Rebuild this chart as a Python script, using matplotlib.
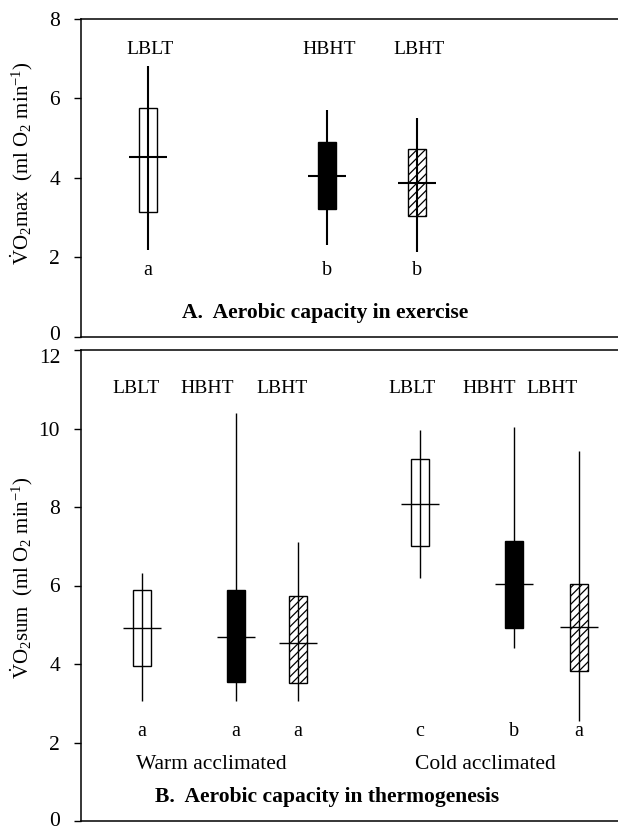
import matplotlib
matplotlib.use('Agg')
import matplotlib.pyplot as plt
from matplotlib.transforms import ScaledTranslation

plt.rcParams['font.family'] = ['Liberation Serif', 'DejaVu Serif']
plt.rcParams['mathtext.fontset'] = 'custom'
plt.rcParams['mathtext.rm'] = 'Liberation Serif'
plt.rcParams['mathtext.it'] = 'Liberation Serif:italic'
plt.rcParams['hatch.linewidth'] = 0.9

# Panel A: VO2max (ml O2 min-1)
groups_a = ['LBLT', 'HBHT', 'LBHT']
letters_a = ['a', 'b', 'b']
lo_a = [2.19, 2.32, 2.13]
q1_a = [3.14, 3.22, 3.05]
med_a = [4.52, 4.04, 3.87]
q3_a = [5.76, 4.89, 4.71]
hi_a = [6.81, 5.70, 5.51]

# Panel B: VO2sum (ml O2 min-1), warm then cold acclimated
groups_b = ['LBLT', 'HBHT', 'LBHT', 'LBLT', 'HBHT', 'LBHT']
letters_b = ['a', 'a', 'a', 'c', 'b', 'a']
lo_b = [3.05, 3.05, 3.05, 6.20, 4.42, 2.56]
q1_b = [3.95, 3.54, 3.52, 7.00, 4.92, 3.82]
med_b = [4.91, 4.70, 4.53, 8.08, 6.03, 4.94]
q3_b = [5.88, 5.88, 5.73, 9.22, 7.14, 6.03]
hi_b = [6.32, 10.39, 7.12, 9.95, 10.05, 9.43]

styles = {'LBLT': dict(facecolor='white', hatch=None),
          'HBHT': dict(facecolor='black', hatch=None),
          'LBHT': dict(facecolor='white', hatch='////')}

fig = plt.figure(figsize=(6.18, 8.31), dpi=100)
W, H = 618, 831
x0, x1 = 81, 626


def make_axes(top, bottom):
    ax = fig.add_axes([x0 / W, 1 - bottom / H, (x1 - x0) / W, (bottom - top) / H])
    ax.set_xlim(x0, x1)
    ax.set_xticks([])
    for s in ax.spines.values():
        s.set_linewidth(1.1)
    ax.tick_params(axis='y', direction='out', length=5, width=1, labelsize=15.5, pad=10)
    return ax


def nudge(label, dy_px):
    label.set_transform(label.get_transform() + ScaledTranslation(0, dy_px / 100, fig.dpi_scale_trans))


def draw_boxes(ax, pos, groups, lo, q1, med, q3, hi, lw):
    for x, g, a, b, m, c, d in zip(pos, groups, lo, q1, med, q3, hi):
        st = styles[g]
        ax.bar(x, c - b, bottom=b, width=18, color=st['facecolor'],
               edgecolor='black', linewidth=1.0, hatch=st['hatch'], zorder=2)
        ax.vlines(x, a, d, color='black', linewidth=lw, zorder=3)
        ax.hlines(m, x - 19, x + 19, color='black', linewidth=lw, zorder=3)


# ---- Panel A ----
axA = make_axes(18.5, 337)
axA.set_ylim(0, 8)
axA.set_yticks([0, 2, 4, 6, 8])
pos_a = [148, 327, 417]
draw_boxes(axA, pos_a, groups_a, lo_a, q1_a, med_a, q3_a, hi_a, 1.5)
for x, g, l in zip(pos_a, groups_a, letters_a):
    axA.text(x + 2, 7.23, g, ha='center', va='center', fontsize=14)
    axA.text(x, 1.66, l, ha='center', va='center', fontsize=14.5)
axA.text(325, 0.6, 'A.  Aerobic capacity in exercise', ha='center', va='center',
         fontsize=15.5, fontweight='bold')
axA.set_ylabel(r'$\dot{\mathrm{V}}\mathrm{O_2max}$  (ml O$_2$ min$^{-1}$)', fontsize=15)
axA.yaxis.set_label_coords(-0.085, 0.545)
nudge(axA.get_yticklabels()[0], 4.5)

# ---- Panel B ----
axB = make_axes(350, 821)
axB.set_ylim(0, 12)
axB.set_yticks([0, 2, 4, 6, 8, 10, 12])
pos_b = [142, 236, 298, 420, 514, 579]
label_x_b = [136, 207, 282, 412, 489, 552]
draw_boxes(axB, pos_b, groups_b, lo_b, q1_b, med_b, q3_b, hi_b, 1.0)
for x, lx, g, l in zip(pos_b, label_x_b, groups_b, letters_b):
    axB.text(lx, 11.02, g, ha='center', va='center', fontsize=14)
    axB.text(x, 2.28, l, ha='center', va='center', fontsize=14.5)
axB.text(211, 1.45, 'Warm acclimated', ha='center', va='center', fontsize=15.5)
axB.text(485, 1.45, 'Cold acclimated', ha='center', va='center', fontsize=15.5)
axB.text(327, 0.61, 'B.  Aerobic capacity in thermogenesis', ha='center', va='center',
         fontsize=15.5, fontweight='bold')
axB.set_ylabel(r'$\dot{\mathrm{V}}\mathrm{O_2sum}$  (ml O$_2$ min$^{-1}$)', fontsize=15)
axB.yaxis.set_label_coords(-0.085, 0.516)
nudge(axB.get_yticklabels()[-1], -6)
nudge(axB.get_yticklabels()[0], 2)

fig.savefig('out.png', dpi=100)
